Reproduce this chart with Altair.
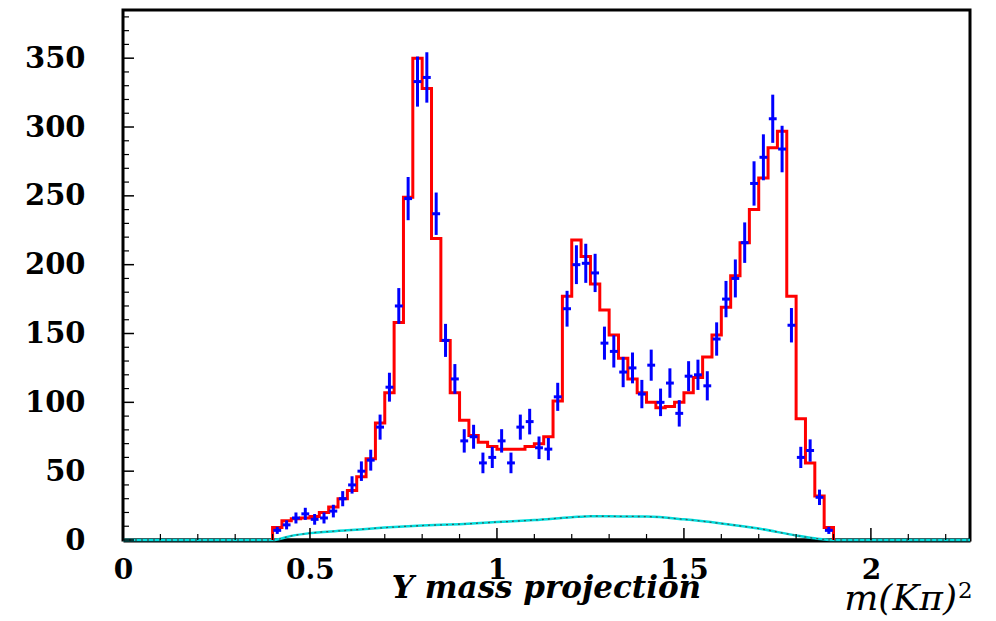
import altair as alt
import pandas as pd

# ---- data ----
bin_start = 0.4
bin_width = 0.025

data_counts = [7, 11, 16, 19, 15, 16, 21, 30, 40, 50,
               58, 82, 111, 170, 248, 333, 336, 237, 145, 117,
               72, 75, 56, 60, 72, 56, 82, 86, 67, 66,
               104, 168, 200, 201, 194, 143, 137, 122, 125, 106,
               127, 100, 114, 92, 119, 120, 112, 146, 175, 190,
               216, 259, 278, 306, 284, 156, 60, 65, 31, 7]

data_errors = [2.6, 3.3, 4.0, 4.4, 3.9, 4.0, 4.6, 5.5, 6.3, 7.1,
               7.6, 9.1, 10.5, 13.0, 15.7, 18.2, 18.3, 15.4, 12.0, 10.8,
               8.5, 8.7, 7.5, 7.7, 8.5, 7.5, 9.1, 9.3, 8.2, 8.1,
               10.2, 13.0, 14.1, 14.2, 13.9, 12.0, 11.7, 11.0, 11.2, 10.3,
               11.3, 10.0, 10.7, 9.6, 10.9, 11.0, 10.6, 12.1, 13.2, 13.8,
               14.7, 16.1, 16.7, 17.5, 16.9, 12.5, 7.7, 8.1, 5.6, 2.6]

fit_counts = [9, 14, 15.5, 16, 17, 20, 24, 30, 36, 46,
              59, 85, 107, 158, 249, 350, 328, 219, 145, 107,
              87, 76, 71, 68, 66, 66, 66, 68, 70, 75,
              101, 177, 218, 206, 186, 167, 149, 132, 117, 107,
              100, 96, 97, 100, 107, 118, 133, 149, 169, 192,
              216, 240, 263, 285, 297, 177, 88, 56, 32, 9]

bkg_x = [0, 0.40, 0.45, 0.50, 0.60, 0.70, 0.80, 0.90, 1.00, 1.10, 1.20,
         1.25, 1.30, 1.40, 1.50, 1.60, 1.70, 1.80, 1.85, 1.90, 2.265]
bkg_y = [0, 0, 3, 5, 7, 9, 10.5, 11.5, 13, 14.5, 16.5,
         17.3, 17.2, 17, 15, 12, 8.3, 3.3, 1.2, 0, 0]

y_major = [0, 50, 100, 150, 200, 250, 300, 350]
y_minor = [v for v in range(10, 390, 10) if v % 50 != 0]
x_major = [0, 0.5, 1, 1.5, 2]
x_minor = [round(0.1 * k, 1) for k in range(1, 23) if k % 5 != 0]

X_MAX = 2.265
Y_MAX = 385
W, H = 847, 530

# ---- tables built from the arrays ----
n = len(data_counts)
centers = [bin_start + bin_width * (i + 0.5) for i in range(n)]
pts = pd.DataFrame({
    "x": centers,
    "y": data_counts,
    "lo": [v - e for v, e in zip(data_counts, data_errors)],
    "hi": [v + e for v, e in zip(data_counts, data_errors)],
    "xl": [c - 0.0105 for c in centers],
    "xr": [c + 0.0105 for c in centers],
})

step_x = [bin_start] + [bin_start + bin_width * i for i in range(n)] + [bin_start + bin_width * n] * 2
step_y = [0] + fit_counts + [fit_counts[-1], 0]
steps = pd.DataFrame({"x": step_x, "y": step_y, "o": list(range(len(step_x)))})

bkg = pd.DataFrame({"x": bkg_x, "y": bkg_y})

xs = alt.Scale(domain=[0, X_MAX], nice=False, zero=False)
ys = alt.Scale(domain=[0, Y_MAX], nice=False)

x_axis = alt.Axis(values=x_major, labelExpr="'' + datum.value", ticks=False,
                  domain=True, domainColor="black", domainWidth=4, grid=False,
                  labelFlush=False, labelOverlap=False,
                  labelFont="DejaVu Serif", labelFontWeight="bold", labelFontSize=28,
                  labelColor="black", labelPadding=16, title=None)
y_axis = alt.Axis(values=y_major, ticks=False, domain=False, grid=False,
                  labelFlush=False, labelOverlap=False,
                  labelFont="DejaVu Serif", labelFontWeight="bold", labelFontSize=29,
                  labelColor="black", labelPadding=38, title=None)

base_bkg = alt.Chart(bkg)
cyan = base_bkg.mark_line(color="#00dddd", strokeWidth=2.5, interpolate="monotone").encode(
    x=alt.X("x:Q", scale=xs, axis=x_axis),
    y=alt.Y("y:Q", scale=ys, axis=y_axis),
)
dots = base_bkg.mark_line(color="#444444", strokeWidth=1.3, strokeDash=[2, 4],
                          interpolate="monotone", opacity=0.85).encode(
    x=alt.X("x:Q", scale=xs), y=alt.Y("y:Q", scale=ys))

red = alt.Chart(steps).mark_line(color="#ff0000", strokeWidth=3, interpolate="step-after").encode(
    x=alt.X("x:Q", scale=xs), y=alt.Y("y:Q", scale=ys), order="o:Q")

ebar = alt.Chart(pts).mark_rule(color="#0000ff", strokeWidth=3).encode(
    x=alt.X("x:Q", scale=xs), y=alt.Y("lo:Q", scale=ys), y2="hi:Q")
hbar = alt.Chart(pts).mark_rule(color="#0000ff", strokeWidth=3).encode(
    x=alt.X("xl:Q", scale=xs), x2="xr:Q", y=alt.Y("y:Q", scale=ys))

ymaj = alt.Chart(pd.DataFrame({"v": y_major})).mark_rule(color="black", strokeWidth=1.5).encode(
    y=alt.Y("v:Q", scale=ys), x=alt.value(0), x2=alt.value(11))
ymin = alt.Chart(pd.DataFrame({"v": y_minor})).mark_rule(color="black", strokeWidth=1.2).encode(
    y=alt.Y("v:Q", scale=ys), x=alt.value(0), x2=alt.value(6))
xmaj = alt.Chart(pd.DataFrame({"v": x_major})).mark_rule(color="black", strokeWidth=1.5).encode(
    x=alt.X("v:Q", scale=xs), y=alt.value(H), y2=alt.value(H - 12))
xmin = alt.Chart(pd.DataFrame({"v": x_minor})).mark_rule(color="black", strokeWidth=1.2).encode(
    x=alt.X("v:Q", scale=xs), y=alt.value(H), y2=alt.value(H - 6))

title = alt.Chart(pd.DataFrame({"t": ["Y mass projection"]})).mark_text(
    font="DejaVu Serif", fontWeight="bold", fontStyle="italic", fontSize=31,
    align="center", baseline="alphabetic", color="black").encode(
    text="t:N", x=alt.value(W / 2), y=alt.value(588))
mlabel = alt.Chart(pd.DataFrame({"t": ["m(Kπ)"]})).mark_text(
    font="DejaVu Serif", fontStyle="italic", fontSize=36,
    align="right", baseline="alphabetic", color="black").encode(
    text="t:N", x=alt.value(834), y=alt.value(600))
sup = alt.Chart(pd.DataFrame({"t": ["2"]})).mark_text(
    font="DejaVu Serif", fontSize=23,
    align="left", baseline="alphabetic", color="black").encode(
    text="t:N", x=alt.value(835), y=alt.value(588))

chart = alt.layer(cyan, dots, red, ebar, hbar, ymaj, ymin, xmaj, xmin, title, mlabel, sup).properties(
    width=W, height=H,
    padding={"left": 123, "top": 10, "right": 26, "bottom": 81},
    autosize=alt.AutoSizeParams(type="none"),
    background="white",
).configure_view(stroke="black", strokeWidth=3)

chart.save("out.html", embed_options={"renderer": "svg", "actions": False})
